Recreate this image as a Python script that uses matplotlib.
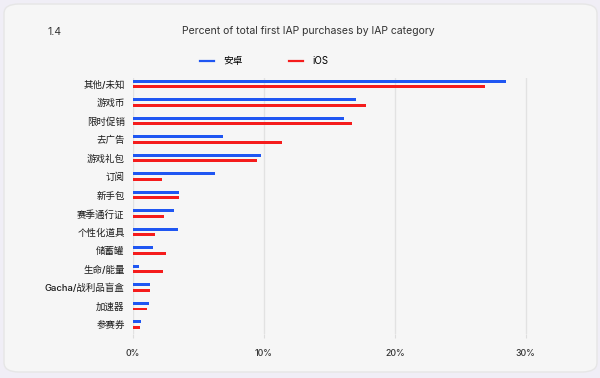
import matplotlib
matplotlib.use("Agg")
import matplotlib.pyplot as plt
import numpy as np
from matplotlib.patches import FancyBboxPatch
from matplotlib.lines import Line2D

plt.rcParams['font.family'] = ['Inter', 'Noto Sans CJK SC', 'DejaVu Sans']

categories = ['其他/未知', '游戏币', '限时促销', '去广告', '游戏礼包', '订阅', '新手包',
              '赛季通行证', '个性化道具', '储蓄罐', '生命/能量', 'Gacha/战利品盲盒',
              '加速器', '参赛券']
android = [28.5, 17.0, 16.1, 6.9, 9.75, 6.3, 3.5, 3.15, 3.4, 1.5, 0.45, 1.3, 1.2, 0.6]
ios = [26.9, 17.8, 16.7, 11.4, 9.5, 2.2, 3.5, 2.35, 1.7, 2.5, 2.3, 1.3, 1.05, 0.55]
xticks = [0, 10, 20, 30]
xticklabels = ['0%', '10%', '20%', '30%']

blue = '#1f56f2'
red = '#f51c1c'

fig = plt.figure(figsize=(6, 3.78), dpi=100)
fig.patch.set_facecolor('#f0eef6')

# card background
card = FancyBboxPatch((4 / 600, 6 / 378), 593 / 600, 368 / 378,
                      boxstyle='round,pad=0,rounding_size=0.025',
                      transform=fig.transFigure, facecolor='#f6f6f6',
                      edgecolor='#e6e6e6', linewidth=1.0, zorder=-5)
fig.patches.append(card)

ax = fig.add_axes([133 / 600, (378 - 334) / 378, 419 / 600, 256 / 378])
ax.set_facecolor('none')
ax.set_zorder(2)

y = np.arange(len(categories))
h = 0.16
ax.barh(y - 0.15, android, height=h, color=blue, zorder=3)
ax.barh(y + 0.15, ios, height=h, color=red, zorder=3)

ax.set_ylim(13.5, -0.32)
ax.set_xlim(0, 32)
ax.set_yticks(y)
ax.set_yticklabels(categories, fontsize=6.8, color='#1a1a1a', fontweight='medium')
ax.set_xticks(xticks)
ax.set_xticklabels(xticklabels, fontsize=6.3, color='#333333', fontweight='medium')
ax.tick_params(axis='y', length=0, pad=6)
ax.tick_params(axis='x', length=3, color='#dddddd', pad=8)
ax.grid(axis='x', color='#e2e2e2', linewidth=1, zorder=0)
for s in ax.spines.values():
    s.set_visible(False)

fig.text(308.5 / 600, 1 - 31 / 378, 'Percent of total first IAP purchases by IAP category',
         ha='center', va='center', fontsize=7.5, color='#333333')
fig.text(48 / 600, 1 - 32 / 378, '1.4', ha='left', va='center', fontsize=7.5, color='#333333')

handles = [Line2D([], [], color=blue, lw=1.6), Line2D([], [], color=red, lw=1.6)]
fig.legend(handles, ['安卓', 'iOS'], loc='center', bbox_to_anchor=(264 / 600, 1 - 61 / 378),
           ncol=2, frameon=False, fontsize=7, handlelength=1.45, columnspacing=4.8,
           handletextpad=0.9)

fig.savefig('out.png', dpi=100)
